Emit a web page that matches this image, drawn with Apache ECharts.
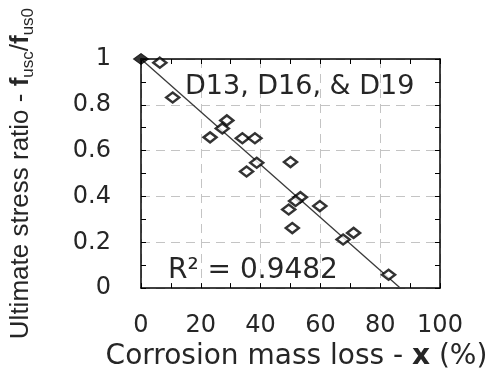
<!DOCTYPE html>
<html>
<head>
<meta charset="utf-8">
<script src="https://cdn.jsdelivr.net/npm/echarts@6/dist/echarts.min.js"></script>
<style>
html,body{margin:0;padding:0;background:#fff;}
#chart{width:496px;height:376px;}
</style>
</head>
<body>
<div id="chart"></div>
<script>
// Data
const massLoss = [6.3, 10.6, 28.7, 27.2, 23.1, 33.9, 38.1, 38.7, 50.0, 35.3, 53.3, 51.7, 49.4, 59.8, 50.6, 67.6, 71.1, 82.8];
const stressRatio = [0.984, 0.832, 0.732, 0.697, 0.658, 0.654, 0.654, 0.547, 0.550, 0.509, 0.397, 0.380, 0.343, 0.358, 0.262, 0.212, 0.241, 0.058];
const controlX = [0];
const controlY = [1];
const fitX = [0, 86.7];
const fitY = [1, 0];
const xTicks = [0, 20, 40, 60, 80, 100];
const yTicks = [0, 0.2, 0.4, 0.6, 0.8, 1];
const annotation = 'D13, D16, & D19';
const r2Text = 'R\u00B2 = 0.9482';

const FONT = 'DejaVu Sans';
const TXT = '#262626';

const chart = echarts.init(document.getElementById('chart'), null, {renderer: 'canvas'});

function axisBase(extra) {
  return Object.assign({
    axisLine: {show: true, onZero: false, lineStyle: {color: '#000', width: 1.5}},
    axisTick: {show: true, inside: true, length: 5, lineStyle: {color: '#000', width: 1}},
    minorTick: {show: true, splitNumber: 2, length: 5, lineStyle: {color: '#000', width: 1}},
    splitLine: {show: false},
    axisLabel: {show: false}
  }, extra);
}

chart.setOption({
  animation: false,
  backgroundColor: '#fff',
  title: [{
    text: annotation,
    left: 180, top: 68,
    textStyle: {fontFamily: FONT, fontSize: 27, fontWeight: 'normal', color: TXT}
  }, {
    text: r2Text,
    left: 163, top: 252,
    textStyle: {fontFamily: FONT, fontSize: 28, fontWeight: 'normal', color: TXT}
  }],
  grid: {left: 140, top: 59, width: 300, height: 234, containLabel: false},
  xAxis: [
    axisBase({
      type: 'value', position: 'bottom', min: 0, max: 100, interval: 20,
      splitLine: {show: true, lineStyle: {color: '#c4c4c4', type: [9, 6], width: 1}},
      axisLabel: {show: true, margin: 26, fontFamily: FONT, fontSize: 24, color: TXT,
        formatter: v => xTicks.indexOf(v) >= 0 ? String(v) : ''},
      name: '{n|Corrosion mass loss - }{b|x}{n| (%)}',
      nameLocation: 'middle', nameGap: 47,
      nameTextStyle: {padding: [0, 0, 0, 12], rich: {
        n: {fontFamily: FONT, fontSize: 28, color: TXT, lineHeight: 34},
        b: {fontFamily: FONT, fontSize: 28, fontWeight: 'bold', color: TXT, lineHeight: 34}
      }}
    }),
    axisBase({type: 'value', position: 'top', min: 0, max: 100, interval: 20})
  ],
  yAxis: [
    axisBase({
      type: 'value', position: 'left', min: 0, max: 1, interval: 0.2,
      splitLine: {show: true, lineStyle: {color: '#c4c4c4', type: [9, 6], width: 1}},
      axisLabel: {show: true, margin: 30, fontFamily: FONT, fontSize: 24, color: TXT,
        formatter: v => {
          const t = yTicks.find(k => Math.abs(k - v) < 1e-9);
          if (t === undefined) return '';
          return (t === 0 || t === 1) ? String(t) : t.toFixed(1);
        }},
      name: '{n|Ultimate stress ratio - }{b|f}{s|usc}{n|/}{b|f}{s|us0}',
      nameLocation: 'middle', nameGap: 104, nameRotate: 90,
      nameTextStyle: {rich: {
        n: {fontFamily: 'Liberation Sans', fontSize: 26, color: TXT, lineHeight: 32},
        b: {fontFamily: 'Liberation Sans', fontSize: 26, fontWeight: 'bold', color: TXT, lineHeight: 32},
        s: {fontFamily: 'Liberation Sans', fontSize: 17, color: TXT, lineHeight: 17, verticalAlign: 'bottom'}
      }}
    }),
    axisBase({type: 'value', position: 'right', min: 0, max: 1, interval: 0.2})
  ],
  series: [
    {
      type: 'line', xAxisIndex: 0, yAxisIndex: 0,
      data: fitX.map((x, i) => [x, fitY[i]]),
      symbol: 'none', z: 2, clip: false,
      lineStyle: {color: '#3a3a3a', width: 1.3}
    },
    {
      type: 'scatter', xAxisIndex: 0, yAxisIndex: 0,
      data: massLoss.map((x, i) => [x, stressRatio[i]]),
      symbol: 'diamond', symbolSize: [13, 10], z: 3, clip: false,
      itemStyle: {color: '#fff', borderColor: '#000', borderWidth: 2.5}
    },
    {
      type: 'scatter', xAxisIndex: 0, yAxisIndex: 0,
      data: controlX.map((x, i) => [x, controlY[i]]),
      symbol: 'diamond', symbolSize: [15, 11], z: 4, clip: false,
      itemStyle: {color: '#000', borderColor: '#000', borderWidth: 1}
    }
  ]
});
</script>
</body>
</html>
